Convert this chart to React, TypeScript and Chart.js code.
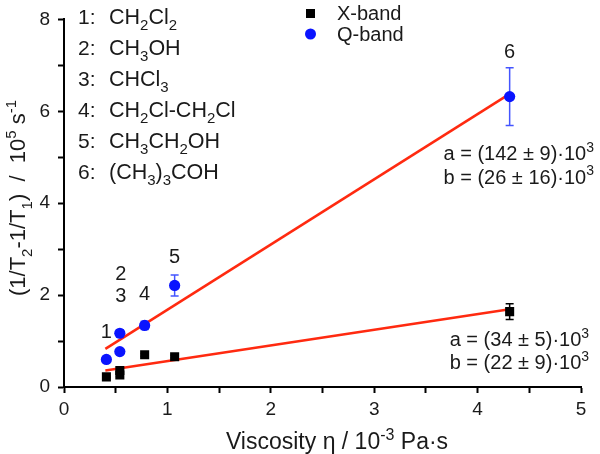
import React, { useEffect, useRef } from "react";
import { Chart, registerables } from "chart.js";

Chart.register(...registerables);

// ---- data ----
const viscosity = [0.41, 0.54, 0.54, 0.78, 1.07, 4.31];
const xBand = [0.22, 0.36, 0.26, 0.7, 0.66, 1.64];
const xBandErr = [0.02, 0.03, 0.03, 0.03, 0.03, 0.17];
const qBand = [0.6, 1.17, 0.77, 1.34, 2.21, 6.32];
const qBandErr = [0.04, 0.07, 0.05, 0.09, 0.23, 0.63];

const fitRange = [0.4, 4.31];
const fitQ = [0.83, 6.38];
const fitX = [0.36, 1.69];

const pointLabels = ["1", "2", "3", "4", "5", "6"];
const pointLabelX = [0.41, 0.55, 0.55, 0.78, 1.07, 4.31];
const pointLabelY = [1.23, 2.49, 2.0, 2.06, 2.85, 7.31];

const compounds = [
  "CH_{2}Cl_{2}",
  "CH_{3}OH",
  "CHCl_{3}",
  "CH_{2}Cl-CH_{2}Cl",
  "CH_{3}CH_{2}OH",
  "(CH_{3})_{3}COH",
];

const fitTextQ = ["a = (142 ± 9)·10^{3}", "b = (26 ± 16)·10^{3}"];
const fitTextX = ["a = (34 ± 5)·10^{3}", "b = (22 ± 9)·10^{3}"];
const fitTextQPos = { x: 3.67, y: [5.09, 4.58] };
const fitTextXPos = { x: 3.73, y: [1.05, 0.54] };

const xTitle = "Viscosity η / 10^{-3} Pa·s";
const yTitle = "(1/T_{2}-1/T_{1})  /  10^{5} s^{-1}";

const FONT = "'Liberation Sans', Arial, sans-serif";
const TEXT = "#1a1a1a";
const BLUE = "#0a14ff";
const RED = "#ff2a10";

type Part = { t: string; k: number };
function parse(s: string): Part[] {
  const out: Part[] = [];
  const re = /([_^])\{([^}]*)\}/g;
  let last = 0;
  let m: RegExpExecArray | null;
  while ((m = re.exec(s))) {
    if (m.index > last) out.push({ t: s.slice(last, m.index), k: 0 });
    out.push({ t: m[2], k: m[1] === "_" ? -1 : 1 });
    last = m.index + m[0].length;
  }
  if (last < s.length) out.push({ t: s.slice(last), k: 0 });
  return out;
}

function richWidth(ctx: CanvasRenderingContext2D, parts: Part[], size: number) {
  let w = 0;
  for (const p of parts) {
    ctx.font = `${p.k === 0 ? size : Math.round(size * 0.68)}px ${FONT}`;
    w += ctx.measureText(p.t).width;
  }
  return w;
}

function drawRich(
  ctx: CanvasRenderingContext2D,
  s: string,
  x: number,
  y: number,
  size: number,
  align: "left" | "center" = "left"
) {
  const parts = parse(s);
  let cx = x;
  if (align === "center") cx = x - richWidth(ctx, parts, size) / 2;
  ctx.textAlign = "left";
  ctx.textBaseline = "alphabetic";
  ctx.fillStyle = TEXT;
  const base = y + size * 0.36;
  for (const p of parts) {
    const fs = p.k === 0 ? size : Math.round(size * 0.68);
    ctx.font = `${fs}px ${FONT}`;
    const dy = p.k === -1 ? size * 0.3 : p.k === 1 ? -size * 0.42 : 0;
    ctx.fillText(p.t, cx, base + dy);
    cx += ctx.measureText(p.t).width;
  }
}

const annotPlugin = {
  id: "annot",
  beforeDatasetsDraw(chart: any) {
    const ctx = chart.ctx as CanvasRenderingContext2D;
    const xs = chart.scales.x;
    const ys = chart.scales.y;
    const bars = (vals: number[], errs: number[], color: string) => {
      ctx.save();
      ctx.strokeStyle = color;
      ctx.lineWidth = 1.5;
      for (let i = 0; i < vals.length; i++) {
        const px = xs.getPixelForValue(viscosity[i]);
        const t = ys.getPixelForValue(vals[i] + errs[i]);
        const b = ys.getPixelForValue(vals[i] - errs[i]);
        ctx.beginPath();
        ctx.moveTo(px, t);
        ctx.lineTo(px, b);
        ctx.moveTo(px - 4, t);
        ctx.lineTo(px + 4, t);
        ctx.moveTo(px - 4, b);
        ctx.lineTo(px + 4, b);
        ctx.stroke();
      }
      ctx.restore();
    };
    bars(qBand, qBandErr, "#4455ff");
    bars(xBand, xBandErr, "#000");
  },
  afterDraw(chart: any) {
    const ctx = chart.ctx as CanvasRenderingContext2D;
    const xs = chart.scales.x;
    const ys = chart.scales.y;
    ctx.save();
    // point labels
    for (let i = 0; i < pointLabels.length; i++) {
      drawRich(
        ctx,
        pointLabels[i],
        xs.getPixelForValue(pointLabelX[i]),
        ys.getPixelForValue(pointLabelY[i]),
        20,
        "center"
      );
    }
    // compound list
    for (let i = 0; i < compounds.length; i++) {
      const y = 16 + i * 31;
      drawRich(ctx, `${i + 1}:`, 78, y, 21);
      drawRich(ctx, compounds[i], 109, y, 21.5);
    }
    // fit parameter text
    fitTextQ.forEach((s, i) =>
      drawRich(ctx, s, xs.getPixelForValue(fitTextQPos.x), ys.getPixelForValue(fitTextQPos.y[i]), 20)
    );
    fitTextX.forEach((s, i) =>
      drawRich(ctx, s, xs.getPixelForValue(fitTextXPos.x), ys.getPixelForValue(fitTextXPos.y[i]), 20)
    );
    // series legend
    ctx.fillStyle = "#000";
    ctx.fillRect(306, 9, 9, 9);
    ctx.fillStyle = BLUE;
    ctx.beginPath();
    ctx.arc(310.5, 34, 5.5, 0, Math.PI * 2);
    ctx.fill();
    drawRich(ctx, "X-band", 337, 13, 20);
    drawRich(ctx, "Q-band", 337, 34, 20);
    // axis titles
    drawRich(ctx, xTitle, 337, 441, 23, "center");
    ctx.save();
    ctx.translate(17, 198);
    ctx.rotate(-Math.PI / 2);
    drawRich(ctx, yTitle, 0, 0, 22, "center");
    ctx.restore();
    ctx.restore();
  },
};

export default function App() {
  const ref = useRef<HTMLCanvasElement | null>(null);
  useEffect(() => {
    document.body.style.margin = "0";
    if (!ref.current) return;
    const chart = new Chart(ref.current, {
      type: "scatter",
      data: {
        datasets: [
          {
            label: "X-band",
            data: viscosity.map((v, i) => ({ x: v, y: xBand[i] })),
            pointStyle: "rect",
            pointRadius: 6.4,
            backgroundColor: "#000",
            borderColor: "#000",
            borderWidth: 0,
          },
          {
            label: "Q-band",
            data: viscosity.map((v, i) => ({ x: v, y: qBand[i] })),
            pointStyle: "circle",
            pointRadius: 5.6,
            backgroundColor: BLUE,
            borderColor: BLUE,
            borderWidth: 0,
          },
          {
            label: "fitQ",
            data: fitRange.map((v, i) => ({ x: v, y: fitQ[i] })),
            showLine: true,
            pointRadius: 0,
            borderColor: RED,
            borderWidth: 2.5,
          },
          {
            label: "fitX",
            data: fitRange.map((v, i) => ({ x: v, y: fitX[i] })),
            showLine: true,
            pointRadius: 0,
            borderColor: RED,
            borderWidth: 2.5,
          },
        ],
      },
      options: {
        animation: false,
        responsive: false,
        maintainAspectRatio: false,
        layout: { padding: { left: 0, right: 19, top: 11, bottom: 0 } },
        plugins: { legend: { display: false }, tooltip: { enabled: false } },
        scales: {
          x: {
            type: "linear",
            min: 0,
            max: 5,
            afterFit: (s: any) => {
              s.height = 67;
            },
            border: { display: true, color: "#000", width: 2 },
            grid: {
              display: true,
              drawOnChartArea: false,
              drawTicks: true,
              tickLength: 6,
              tickColor: "#000",
              tickWidth: 2,
            },
            ticks: {
              stepSize: 0.5,
              autoSkip: false,
              maxRotation: 0,
              padding: 5,
              color: TEXT,
              font: { family: FONT, size: 19 },
              callback: (v: any) => (Number.isInteger(v) ? String(v) : ""),
            },
          },
          y: {
            type: "linear",
            min: 0,
            max: 8,
            afterFit: (s: any) => {
              s.width = 64;
            },
            border: { display: true, color: "#000", width: 2 },
            grid: {
              display: true,
              drawOnChartArea: false,
              drawTicks: true,
              tickLength: 6,
              tickColor: "#000",
              tickWidth: 2,
            },
            ticks: {
              stepSize: 1,
              autoSkip: false,
              padding: 8,
              color: TEXT,
              font: { family: FONT, size: 19 },
              callback: (v: any) => (v % 2 === 0 ? String(v) : ""),
            },
          },
        },
      },
      plugins: [annotPlugin],
    } as any);
    return () => chart.destroy();
  }, []);
  return (
    <div style={{ width: 600, height: 454 }}>
      <canvas ref={ref} width={600} height={454} style={{ display: "block" }} />
    </div>
  );
}
